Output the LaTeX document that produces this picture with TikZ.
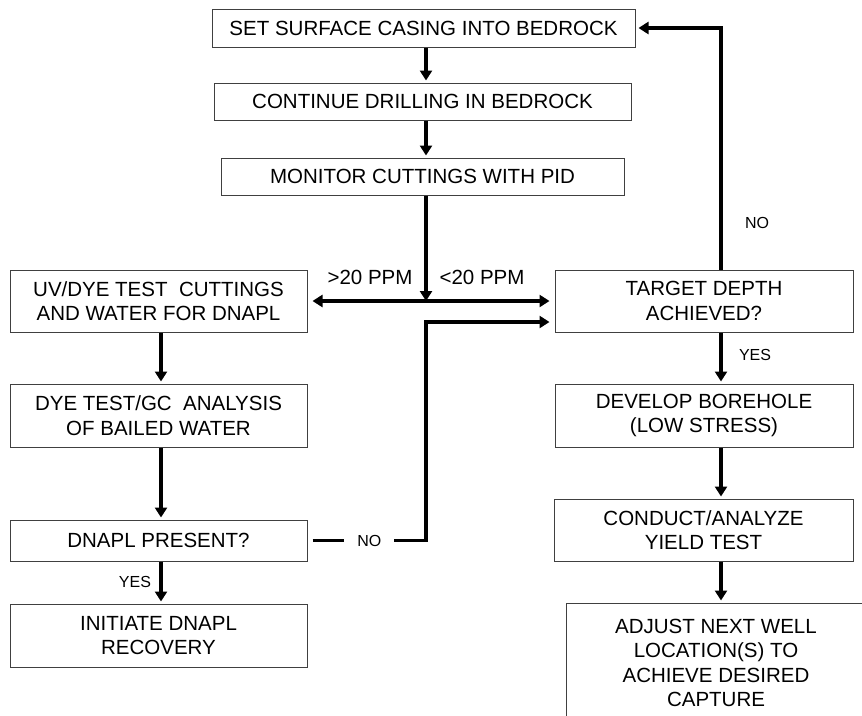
\documentclass[tikz,border=0pt]{standalone}
\usepackage{fontspec}
\setmainfont{Liberation Sans}
\usetikzlibrary{arrows.meta,calc}
\begin{document}
\begin{tikzpicture}[x=1pt,y=-1pt,
  box/.style={draw=black!75, line width=1pt, align=center, font=\fontsize{20.5}{24.5}\selectfont, inner sep=0pt, anchor=center},
  conn/.style={line width=3.4pt},
  arr/.style={conn, -{Triangle[length=10pt,width=12pt]}, shorten >=2pt},
  lbl/.style={font=\fontsize{20.5}{24}\selectfont, inner sep=0pt},
  sml/.style={font=\fontsize{16}{18}\selectfont, inner sep=0pt}]
\useasboundingbox (0,0) rectangle (862,715);
\fill[white] (0,0) rectangle (862,715);
\clip (0,0) rectangle (862,715);

% boxes
\node[box, minimum width=423pt, minimum height=38pt] (b1) at (423.5,28) {SET SURFACE CASING INTO BEDROCK};
\node[box, minimum width=417pt, minimum height=37pt] (b2) at (422.5,101.5) {CONTINUE DRILLING IN BEDROCK};
\node[box, minimum width=403pt, minimum height=37pt] (b3) at (422.5,176.5) {MONITOR CUTTINGS WITH PID};
\node[box, minimum width=297pt, minimum height=62pt] (uv) at (158.5,301) {UV/DYE TEST\ \ CUTTINGS\\AND WATER FOR DNAPL};
\node[box, minimum width=297pt, minimum height=63pt] (dye) at (158.5,415.5) {DYE TEST/GC\ \ ANALYSIS\\OF BAILED WATER};
\node[box, minimum width=297pt, minimum height=41pt] (dnapl) at (158.5,540.5) {DNAPL PRESENT?};
\node[box, minimum width=297pt, minimum height=63pt] (init) at (158.5,635.5) {INITIATE DNAPL\\RECOVERY};
\node[box, minimum width=298pt, minimum height=62pt] (target) at (704,301) {TARGET DEPTH\\ACHIEVED?};
\node[box, minimum width=298pt, minimum height=63pt] (develop) at (704,415.5) {DEVELOP BOREHOLE\\(LOW STRESS)};
\node[box, minimum width=299pt, minimum height=62pt] (conduct) at (703.5,530) {CONDUCT/ANALYZE\\YIELD TEST};
\node[box, minimum width=300pt, minimum height=120pt] (adjust) at (716,663) {ADJUST NEXT WELL\\LOCATION(S) TO\\ACHIEVE DESIRED\\CAPTURE};

% connector columns
\coordinate (lx) at (161,0);
\coordinate (mx) at (426,0);
\coordinate (rx) at (721,0);

% central column
\draw[arr] (mx |- b1.south) -- (mx |- b2.north);
\draw[arr] (mx |- b2.south) -- (mx |- b3.north);
\coordinate (j) at (mx |- uv.east);
\draw[arr, shorten >=0pt] (mx |- b3.south) -- (j);
\draw[arr, shorten >=5pt] (j) -- (uv.east);
\draw[arr, shorten >=5pt] (j) -- (target.west);
\node[lbl] (gt) at (370,277) {>20 PPM};
\node[lbl] (lt) at (482,277) {<20 PPM};

% NO loop from DNAPL PRESENT? to TARGET DEPTH
\coordinate (t2) at ($(target.west)+(0,21)$);
\draw[arr, shorten >=5pt] ([xshift=5pt]dnapl.east) -- node[sml, fill=white, inner xsep=13pt, inner ysep=2pt] (no1) {NO} (mx |- dnapl.east) -- (mx |- t2) -- (t2);

% right column
\draw[arr, shorten >=3pt] (rx |- target.north) |- (b1.east);
\node[sml] (no2) at (757,223) {NO};
\draw[arr] (rx |- target.south) -- (rx |- develop.north);
\node[sml] (yes2) at (755,355) {YES};
\draw[arr] (rx |- develop.south) -- (rx |- conduct.north);
\draw[arr] (rx |- conduct.south) -- (rx |- adjust.north);

% left column
\draw[arr] (lx |- uv.south) -- (lx |- dye.north);
\draw[arr] (lx |- dye.south) -- (lx |- dnapl.north);
\draw[arr] (lx |- dnapl.south) -- (lx |- init.north);
\node[sml] (yes1) at (135,582) {YES};
\end{tikzpicture}
\end{document}
